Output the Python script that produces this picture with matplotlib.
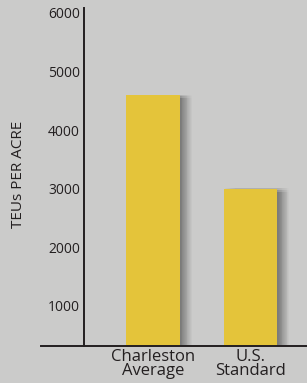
import matplotlib
matplotlib.use("Agg")
import matplotlib.pyplot as plt
import matplotlib.patheffects as pe

categories = ["Charleston\nAverage", "U.S.\nStandard"]
values = [4600, 3000]
yticks = [1000, 2000, 3000, 4000, 5000, 6000]
ylabel = "TEUs PER ACRE"

bg = "#cbcbca"
bar_color = "#e4c43a"
line_color = "#231f20"
text_color = "#231f20"

plt.rcParams['font.family'] = ['Open Sans', 'DejaVu Sans']

fig = plt.figure(figsize=(3.07, 3.83), dpi=100, facecolor=bg)
ax = fig.add_axes([41/307, 37/383, 266/307, (346-8)/383])
ax.set_facecolor(bg)

x = list(range(len(categories)))
bars = ax.bar(x, values, width=0.55, color=bar_color, zorder=3)
for b in bars:
    effects = []
    for k in range(1, 15):
        for dy in (0.3, -0.9, -2.1):
            effects.append(pe.SimplePatchShadow(offset=(k * 0.6, dy), alpha=0.008,
                                                shadow_rgbFace="black"))
    b.set_path_effects(effects + [pe.Normal()])

ax.set_xlim(-1.149, 1.579)
ax.set_ylim(315, 6085)

for s in ["top", "right"]:
    ax.spines[s].set_visible(False)
ax.spines["left"].set_position(("axes", 43/266))
ax.spines["left"].set_linewidth(1.4)
ax.spines["left"].set_color(line_color)
ax.spines["bottom"].set_linewidth(1.4)
ax.spines["bottom"].set_color(line_color)
ax.spines["left"].set_zorder(4)
ax.spines["bottom"].set_zorder(4)

ax.set_yticks(yticks)
ax.set_yticklabels([str(v) for v in yticks], fontsize=10, color=text_color)
ax.tick_params(axis="y", length=0, pad=3)
ax.set_xticks(x)
ax.set_xticklabels(categories, fontsize=12, color=text_color, linespacing=0.85)
ax.tick_params(axis="x", length=0, pad=2)

fig.text(19/307, 1 - 174/383, ylabel, rotation=90, ha="center", va="center",
         fontsize=11, color=text_color)

fig.savefig("out.png", dpi=100, facecolor=bg)
